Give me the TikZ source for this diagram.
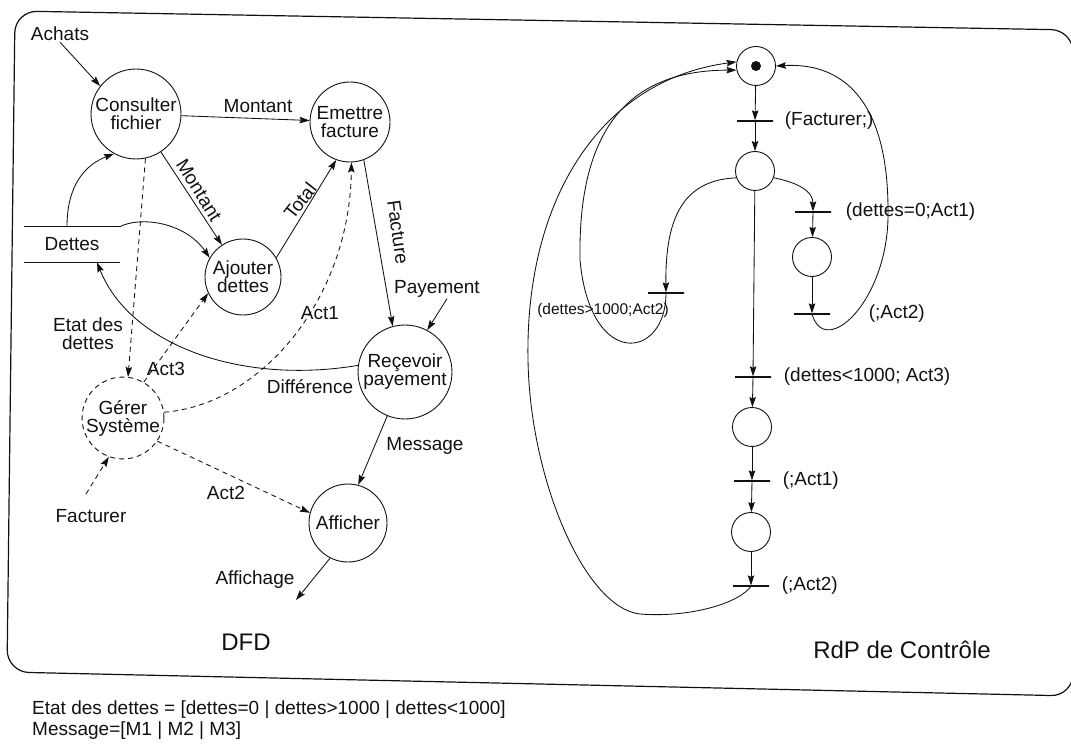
\documentclass[tikz,border=0pt]{standalone}
\usepackage{fontspec}
\setmainfont{Liberation Sans}
\usetikzlibrary{arrows.meta,positioning,calc}
\definecolor{dfdink}{HTML}{111111}
\tikzset{
  proc/.style={circle, draw=dfdink, line width=0.9pt, inner sep=0pt, align=center, text=dfdink},
  ctl/.style={proc, dash pattern=on 5pt off 4pt},
  lbl/.style={inner sep=1pt, text=dfdink, align=center},
  tlbl/.style={lbl, anchor=west},
  arr/.style={-{Stealth[length=10pt,width=6.5pt,inset=1.5pt]}, line width=0.85pt, draw=dfdink},
  darr/.style={arr, dash pattern=on 5pt off 4pt},
  place/.style={circle, draw=dfdink, line width=0.9pt, minimum size=39pt, inner sep=0pt},
  trans/.style={draw=dfdink, line width=1.3pt, minimum width=36pt, minimum height=0pt, inner sep=0pt},
  cadre/.style={draw=dfdink, line width=1.2pt, rounded corners=22pt},
  titre/.style={font=\fontsize{24}{24}\selectfont, text=dfdink},
}

\begin{document}
\begin{tikzpicture}[x=1pt, y=-1pt, font=\fontsize{19}{18}\selectfont]
  \useasboundingbox (0,0) rectangle (1071,751);
  \draw[cadre] (15,11) -- (1073,30) -- (1073,696) -- (7,672) -- cycle;

  % DFD
  \node[proc, minimum size=90pt] (cf) at (136,114) {Consulter\\fichier};
  \node[proc, minimum size=80pt] (em) at (350,122) {Emettre\\facture};
  \node[proc, minimum size=76pt] (aj) at (243,277) {Ajouter\\dettes};
  \node[proc, minimum size=94pt] (rp) at (405,372) {Reçevoir\\payement};
  \node[proc, minimum size=78pt] (af) at (348,523) {Afficher};
  \node[ctl, minimum size=80pt] (gs) at (123,418) {Gérer\\Système};
  \node[minimum width=95pt, minimum height=35pt, inner sep=0pt, text=dfdink] (st) at (72,244.5) {Dettes};
  \draw[line width=0.9pt, dfdink] (st.north west) -- (st.north east) (st.south west) -- (st.south east);

  \node[lbl] (achats) at (60,34) {Achats};
  \node[lbl] (mont1) at (258,106) {Montant};
  \node[lbl, rotate=-58] (mont2) at (199,190) {Montant};
  \node[lbl, rotate=52] (total) at (300,201) {Total};
  \node[lbl, rotate=-82] (factu) at (398,232) {Facture};
  \node[lbl] (pay) at (437,289) {Payement};
  \node[lbl] (diff) at (310,387) {Différence};
  \node[lbl] (mess) at (425,446) {Message};
  \node[lbl] (affi) at (255,580) {Affichage};
  \node[lbl] (etat) at (88,334) {Etat des\\dettes};
  \node[lbl] (act3) at (166,369) {Act3};
  \node[lbl] (act1) at (320,313) {Act1};
  \node[lbl] (act2) at (226,493) {Act2};
  \node[lbl] (fact) at (91,516) {Facturer};
  \node[titre] (dfd) at (246,642) {DFD};
  \coordinate (affout) at (296,600);
  \coordinate (factout) at (86,494);

  \draw[arr] (achats.south) -- (cf.142);
  \draw[arr] (cf) -- (em);
  \draw[arr] (cf) -- (aj);
  \draw[arr] (aj.30) -- (em.250);
  \draw[arr] ([xshift=-5pt]st.north) .. controls (67,185) and (85,165) .. (cf.241);
  \draw[arr] (st.north east) .. controls (140,216) and (185,222) .. (aj.150);
  \draw[arr] (rp.172) .. controls (240,385) and (130,345) .. ([xshift=25pt]st.south);
  \draw[arr] (em.290) -- (rp.105);
  \draw[arr] ([xshift=10pt]pay.south) -- (rp.62);
  \draw[arr] (rp.248) -- (af.75);
  \draw[arr] (af.243) -- (affout);
  \draw[darr] (cf.282) -- (gs.83);
  \draw[darr] (gs.60) -- (aj.205);
  \draw[darr] (gs.8) .. controls (260,405) and (350,300) .. (em.272);
  \draw[darr] (gs.326) -- (af.165);
  \draw[darr] (factout) -- (gs.250);

  % RdP de controle
  \node[place] (p0) at (756,66) {};
  \node[circle, fill=dfdink, minimum size=10pt, inner sep=0pt] (tok) at (p0) {};
  \node[trans] (t0) at (755,121) {};
  \node[place] (p1) at (755,171) {};
  \node[trans] (t1) at (813,212) {};
  \node[place] (p2) at (812,257) {};
  \node[trans] (t2) at (812,314) {};
  \node[trans] (tl) at (666,293) {};
  \node[trans] (t3) at (753,377) {};
  \node[place] (p3) at (752,427) {};
  \node[trans] (t4) at (752,481) {};
  \node[place] (p4) at (751,532) {};
  \node[trans] (t5) at (751,586) {};

  \node[tlbl, right=10pt of t0] (l0) {(Facturer;)};
  \node[tlbl, right=13pt of t1] (l1) {(dettes=0;Act1)};
  \node[tlbl, right=37pt of t2] (l2) {(;Act2)};
  \node[lbl, font=\fontsize{15.5}{15}\selectfont] (ll) at (603,310) {(dettes>1000;Act2)};
  \node[tlbl, right=11pt of t3] (l3) {(dettes<1000; Act3)};
  \node[tlbl, right=11pt of t4] (l4) {(;Act1)};
  \node[tlbl, right=11pt of t5] (l5) {(;Act2)};
  \node[titre] (rdp) at (902,650) {RdP de Contrôle};

  \foreach \a/\b in {p0/t0,t0/p1,t1/p2,p2/t2,p1/t3,t3/p3,p3/t4,t4/p4,p4/t5}
    \draw[arr] (\a) -- (\b);
  \draw[arr] (p1.-20) .. controls (795,182) and (813,190) .. (t1);
  \draw[arr] (p1.200) .. controls (685,180) and (665,215) .. (tl);
  \draw[arr] (tl.center) .. controls (666,360) and (590,370) .. (580,260)
    .. controls (578,140) and (620,70) .. (p0.192);
  \draw[arr] (t2.center) .. controls (825,360) and (890,300) .. (888,210)
    .. controls (888,110) and (850,62) .. (p0.east);
  \draw[arr] (t5.center) .. controls (740,603) and (690,618) .. (640,614)
    .. controls (585,608) and (530,480) .. (528,360)
    .. controls (525,200) and (600,80) .. (p0.168);

  \node[lbl, anchor=west] (legA) at (31,710) {Etat des dettes = [dettes=0 | dettes>1000 | dettes<1000]};
  \node[lbl, anchor=west] (legB) at (31,731) {Message=[M1 | M2 | M3]};
\end{tikzpicture}
\end{document}
